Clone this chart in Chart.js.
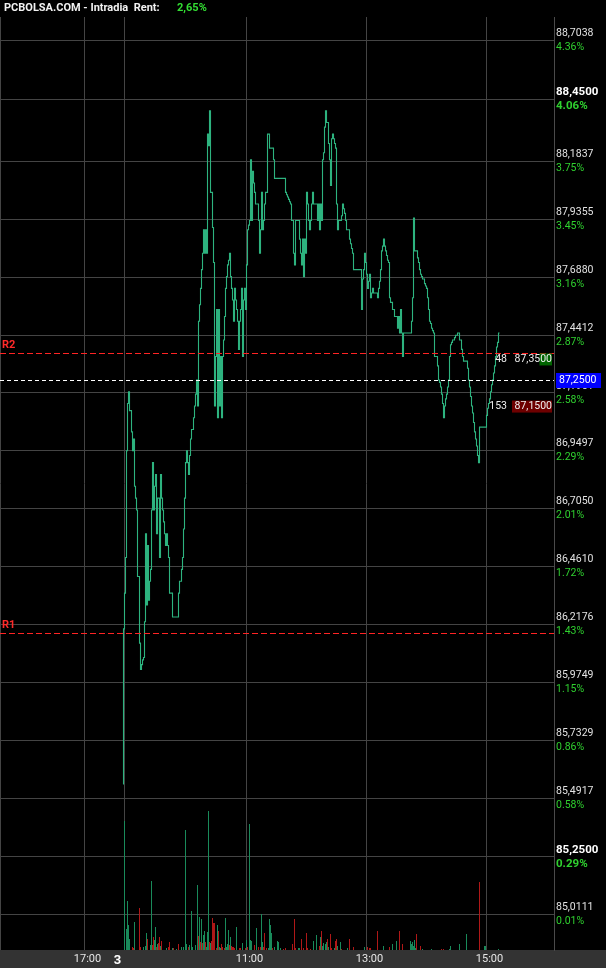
<!DOCTYPE html>
<html>
<head>
<meta charset="utf-8">
<title>PCBOLSA.COM - Intradia</title>
<script src="https://cdn.jsdelivr.net/npm/chart.js@4.4.1/dist/chart.umd.min.js"></script>
<style>
  html, body { margin: 0; padding: 0; background: #000; }
  canvas { display: block; }
</style>
</head>
<body>
<canvas id="intradia" width="606" height="968"></canvas>
<script>
// minutes since the 09:00 open (compressed session time) and traded price
const priceMin = [
  -1, 0, 1, 2, 3, 4, 5, 7, 8, 9, 10, 11, 12, 13, 15, 16, 17, 18, 19, 20,
  21, 22, 23, 24, 25, 26, 27, 28, 29, 30, 31, 32, 33, 35, 36, 37, 38, 39, 40, 41,
  42, 43, 44, 45, 48, 54, 55, 57, 58, 59, 60, 61, 62, 63, 64, 65, 66, 67, 69, 70,
  71, 72, 73, 74, 75, 76, 77, 78, 79, 80, 81, 82, 83, 84, 85, 86, 88, 89, 90, 91,
  92, 93, 94, 95, 96, 97, 98, 99, 100, 101, 102, 103, 104, 105, 106, 107, 108, 109, 110, 111,
  112, 113, 114, 115, 116, 117, 118, 119, 120, 121, 122, 123, 124, 125, 126, 127, 128, 129, 130, 131,
  134, 135, 136, 137, 138, 139, 140, 141, 143, 145, 149, 150, 161, 162, 163, 164, 165, 166, 167, 169,
  170, 171, 175, 176, 177, 178, 179, 180, 181, 182, 183, 184, 185, 186, 187, 188, 189, 193, 194, 195,
  196, 197, 198, 199, 200, 201, 202, 204, 205, 206, 207, 208, 209, 210, 211, 212, 213, 214, 217, 218,
  219, 220, 221, 222, 225, 226, 227, 228, 229, 237, 238, 239, 240, 241, 242, 243, 244, 245, 246, 247,
  248, 249, 253, 254, 255, 256, 257, 258, 259, 260, 261, 262, 263, 264, 265, 266, 268, 270, 273, 274,
  275, 276, 277, 278, 279, 287, 288, 289, 290, 293, 294, 295, 296, 297, 298, 300, 301, 302, 303, 304,
  305, 306, 307, 308, 309, 310, 313, 314, 315, 316, 317, 318, 319, 320, 321, 322, 323, 324, 325, 326,
  327, 328, 330, 331, 333, 335, 337, 338, 339, 343, 344, 345, 346, 347, 348, 349, 350, 351, 352, 353,
  354, 355, 362, 363, 364, 365, 366, 367, 368, 369, 370, 371, 372, 373, 374, 375
];
const priceVal = [
  85.55, 86.20, 86.35, 86.50, 86.95, 87.15, 87.20, 87.12, 87.03, 86.95, 87.00, 86.80, 86.75, 86.70, 86.42, 86.14, 86.03, 86.05, 86.07, 86.08,
  86.23, 86.60, 86.30, 86.55, 86.32, 86.40, 86.45, 86.70, 86.90, 86.70, 86.80, 86.85, 86.60, 86.75, 86.50, 86.85, 86.75, 86.70, 86.65, 86.60,
  86.55, 86.60, 86.55, 86.50, 86.35, 86.25, 86.35, 86.40, 86.45, 86.50, 86.62, 86.75, 86.90, 86.95, 86.90, 86.85, 86.93, 87.00, 87.04, 87.09,
  87.14, 87.19, 87.25, 87.14, 87.50, 87.57, 87.64, 87.72, 87.79, 87.89, 87.79, 87.89, 87.79, 88.30, 88.25, 88.40, 88.05, 87.90, 87.75, 87.14,
  87.35, 87.55, 87.09, 87.55, 87.14, 87.35, 87.09, 87.35, 87.42, 87.52, 87.64, 87.69, 87.74, 87.76, 87.79, 87.69, 87.64, 87.59, 87.50, 87.64,
  87.59, 87.55, 87.50, 87.38, 87.50, 87.55, 87.64, 87.35, 87.59, 87.64, 87.55, 87.74, 87.89, 87.91, 87.93, 88.19, 87.93, 88.14, 88.09, 88.05,
  88.00, 87.93, 87.79, 87.89, 88.05, 87.89, 87.93, 88.00, 88.05, 88.30, 88.24, 88.19, 88.11, 88.05, 88.04, 88.03, 88.02, 88.01, 88.00, 87.93,
  87.79, 87.74, 87.93, 87.85, 87.79, 87.74, 87.85, 87.69, 87.85, 87.79, 88.05, 88.00, 87.93, 87.89, 87.93, 88.00, 88.05, 88.00, 87.93, 88.00,
  87.89, 88.00, 87.93, 88.19, 88.22, 88.33, 88.40, 88.35, 88.26, 88.19, 88.08, 88.28, 88.30, 88.28, 88.26, 88.24, 88.00, 87.89, 87.93, 87.95,
  88.00, 87.98, 87.96, 87.93, 87.89, 87.85, 87.83, 87.81, 87.79, 87.72, 87.55, 87.68, 87.72, 87.79, 87.75, 87.70, 87.64, 87.67, 87.70, 87.60,
  87.62, 87.64, 87.62, 87.60, 87.64, 87.67, 87.72, 87.80, 87.82, 87.85, 87.82, 87.80, 87.78, 87.76, 87.75, 87.60, 87.58, 87.55, 87.52, 87.47,
  87.52, 87.45, 87.55, 87.45, 87.35, 87.45, 87.50, 87.60, 87.94, 87.80, 87.77, 87.75, 87.72, 87.70, 87.69, 87.68, 87.66, 87.65, 87.64, 87.60,
  87.55, 87.50, 87.49, 87.47, 87.46, 87.45, 87.35, 87.31, 87.25, 87.24, 87.22, 87.19, 87.15, 87.09, 87.14, 87.17, 87.19, 87.22, 87.25, 87.35,
  87.40, 87.41, 87.42, 87.43, 87.44, 87.45, 87.42, 87.38, 87.35, 87.33, 87.30, 87.25, 87.22, 87.18, 87.14, 87.11, 87.07, 87.03, 87.00, 86.97,
  86.93, 86.90, 87.05, 87.10, 87.13, 87.15, 87.17, 87.20, 87.23, 87.25, 87.28, 87.31, 87.35, 87.39, 87.41, 87.45
];

// traded volume per minute; negative = traded on a down tick
const volMin = [
  0, 2, 3, 4, 5, 8, 9, 10, 15, 16, 19, 21, 22, 23, 26, 27, 28, 29, 30, 31,
  32, 33, 34, 35, 36, 37, 42, 44, 45, 48, 49, 52, 54, 57, 59, 61, 62, 64, 65, 67,
  68, 71, 73, 74, 75, 76, 77, 78, 79, 80, 81, 82, 83, 84, 85, 86, 87, 88, 89, 90,
  92, 93, 94, 95, 96, 97, 98, 100, 101, 102, 103, 104, 105, 106, 107, 108, 109, 110, 112, 115,
  116, 118, 121, 122, 123, 125, 126, 127, 130, 132, 134, 136, 137, 138, 139, 140, 142, 144, 145, 146,
  147, 148, 150, 153, 154, 156, 159, 161, 168, 170, 171, 174, 175, 177, 179, 182, 183, 186, 189, 192,
  195, 196, 197, 198, 199, 201, 202, 203, 204, 206, 207, 210, 211, 212, 213, 216, 217, 223, 225, 229,
  240, 243, 245, 246, 253, 259, 265, 268, 272, 275, 278, 286, 287, 288, 289, 290, 291, 292, 296, 298,
  307, 317, 319, 325, 326, 335, 342, 355, 360, 361, 374
];
const volume = [
  6450, 1050, 2450, 1250, 550, -150, -100, 1400, -2100, -150, 150, 200, 850, -550, 250, 3450, -250, -650, 500, 1150,
  -150, 300, -350, -650, 200, -450, 100, -150, -400, 100, -100, 50, -300, 150, 150, 6000, 300, -150, 250, 1950,
  150, 250, 3250, -700, 1650, -400, 1550, -350, 750, 950, -400, 150, 900, 6950, -400, 350, -450, -1600, -1350, -1350,
  -100, 1250, -950, 150, 100, -300, -150, -100, 1600, 150, 300, 1000, -250, 650, -200, -150, -150, -100, 1150, -100,
  -100, 350, -100, 500, -150, 6300, 500, 450, -250, 1100, -150, -150, 1800, 400, -150, -850, -100, 100, 1550, 1250,
  850, -100, 150, 450, 400, 100, -50, -100, -300, -1550, -100, 100, 100, -550, -100, -850, -100, -50, 450, 750,
  -200, 650, -950, 200, 350, 300, 400, -550, 150, -800, -100, 100, -450, -550, 200, 400, -50, 100, -550, -150,
  150, -150, -100, -100, -950, 200, -150, 300, 450, -950, -300, 450, 300, 400, 200, 500, 100, -800, -200, 50,
  50, -50, -50, 50, 200, 300, 800, -3400, 200, 200, 50
];

// right axis: price ticks and their change vs. previous close
const tickPrices = [88.7038, 88.4500, 88.1837, 87.9355, 87.6880, 87.4412, 87.1951, 86.9497,
                    86.7050, 86.4610, 86.2176, 85.9749, 85.7329, 85.4917, 85.2500, 85.0111];
const tickPct = ['4.36%', '4.06%', '3.75%', '3.45%', '3.16%', '2.87%', '2.58%', '2.29%',
                 '2.01%', '1.72%', '1.43%', '1.15%', '0.86%', '0.58%', '0.29%', '0.01%'];
const boldPrices = [88.4500, 85.2500];

// time axis
const xTickValues = [-40, -10, 0, 122, 242, 362];
const xTickLabels = ['17:00', '3', '', '11:00', '13:00', '15:00'];
const dayTick = -10;

// levels, last trade, order book
const levelNames = ['R2', 'R1'];
const levelValues = [87.366, 86.183];
const lastPrice = 87.25;
const rentText = '2,65%';
const bookQty = [48, 153];
const bookPrice = [87.35, 87.15];
const bookSide = ['ask', 'bid'];

const GRID = '#444';
const fmtPrice = v => v.toFixed(4).replace('.', ',');

Chart.defaults.font.family = 'Roboto, sans-serif';

const overlay = {
  id: 'overlay',
  beforeDraw(chart) {
    const { ctx, width, height, chartArea } = chart;
    ctx.save();
    ctx.fillStyle = '#000';
    ctx.fillRect(0, 0, width, height);
    ctx.fillStyle = '#333';
    ctx.fillRect(0, chartArea.bottom, width, height - chartArea.bottom);
    ctx.restore();
  },
  afterDraw(chart) {
    const { ctx, chartArea: area } = chart;
    const ys = chart.scales.y;
    ctx.save();

    // left frame
    ctx.strokeStyle = GRID;
    ctx.lineWidth = 1;
    ctx.beginPath();
    ctx.moveTo(area.left + 0.5, area.top);
    ctx.lineTo(area.left + 0.5, area.bottom);
    ctx.stroke();

    // percentage under every price label
    ctx.textBaseline = 'middle';
    ctx.textAlign = 'left';
    tickPrices.forEach((p, i) => {
      const bold = boldPrices.includes(p);
      ctx.font = (bold ? 'bold 11.5px' : '10.5px') + ' Roboto';
      ctx.fillStyle = '#2fd02f';
      ctx.fillText(tickPct[i], area.right + 2, ys.getPixelForValue(p) + 7);
    });

    // R1 / R2
    ctx.font = 'bold 11px Roboto';
    levelValues.forEach((v, i) => {
      const py = Math.round(ys.getPixelForValue(v)) + 0.5;
      ctx.strokeStyle = '#ff2424';
      ctx.setLineDash([6, 3]);
      ctx.beginPath();
      ctx.moveTo(area.left, py);
      ctx.lineTo(area.right, py);
      ctx.stroke();
      ctx.fillStyle = '#ff2a2a';
      ctx.fillText(levelNames[i], 2, py - 8);
    });

    // last trade
    const ly = Math.round(ys.getPixelForValue(lastPrice)) + 0.5;
    ctx.strokeStyle = '#fff';
    ctx.setLineDash([4, 3]);
    ctx.beginPath();
    ctx.moveTo(area.left, ly);
    ctx.lineTo(area.right, ly);
    ctx.stroke();
    ctx.setLineDash([]);
    ctx.fillStyle = '#0000ff';
    ctx.fillRect(area.right + 2, ly - 7.5, 45, 15);
    ctx.fillStyle = '#fff';
    ctx.font = '10.5px Roboto';
    ctx.fillText(fmtPrice(lastPrice), area.right + 5, ly);

    // best bid / ask
    const maxQty = Math.max(...bookQty);
    bookPrice.forEach((p, i) => {
      const py = ys.getPixelForValue(p) + 3;
      const w = bookQty[i] / maxQty * 40;
      ctx.fillStyle = bookSide[i] === 'ask' ? '#006400' : '#6e0000';
      ctx.fillRect(area.right - 2 - w, py - 6, w, 12);
      ctx.fillStyle = '#eee';
      ctx.textAlign = 'right';
      ctx.fillText(String(bookQty[i]), area.right - 47, py);
      ctx.fillText(fmtPrice(p), area.right - 2, py);
    });

    // header
    ctx.textAlign = 'left';
    ctx.font = 'bold 11px Roboto';
    ctx.fillStyle = '#f2f2f2';
    ctx.fillText('PCBOLSA.COM - Intradia  Rent:', 4, 8.5);
    ctx.fillStyle = '#33dd33';
    ctx.fillText(rentText, 177, 8.5);
    ctx.restore();
  }
};

new Chart(document.getElementById('intradia'), {
  type: 'line',
  data: {
    datasets: [
      {
        type: 'line',
        data: priceMin.map((m, i) => ({ x: m, y: priceVal[i] })),
        yAxisID: 'y',
        borderColor: '#2db37f',
        borderWidth: 1.1,
        pointRadius: 0,
        stepped: 'after',
        order: 0
      },
      {
        type: 'bar',
        data: volMin.map((m, i) => ({ x: m, y: Math.abs(volume[i]) })),
        yAxisID: 'yVol',
        backgroundColor: volume.map(v => v >= 0 ? '#198a5a' : '#b01818'),
        barThickness: 1,
        inflateAmount: 0,
        order: 1
      }
    ]
  },
  options: {
    responsive: false,
    animation: false,
    devicePixelRatio: 1,
    layout: { padding: { top: 17, left: 0, right: 0, bottom: 0 } },
    plugins: { legend: { display: false }, tooltip: { enabled: false } },
    scales: {
      x: {
        type: 'linear',
        min: -124.5,
        max: 429.5,
        offset: false,
        afterBuildTicks: s => { s.ticks = xTickValues.map(v => ({ value: v })); },
        afterFit: s => { s.height = 18; },
        grid: {
          offset: false,
          color: c => (c.tick && c.tick.value === dayTick) ? 'rgba(0,0,0,0)' : GRID,
          drawTicks: false
        },
        border: { display: false },
        ticks: {
          padding: 3,
          labelOffset: 3,
          autoSkip: false,
          maxRotation: 0,
          color: c => (c.tick && c.tick.value === dayTick) ? '#fff' : '#e6e6e6',
          font: c => (c.tick && c.tick.value === dayTick) ? { size: 13, weight: 'bold' } : { size: 11 },
          callback: (v, i) => xTickLabels[i]
        }
      },
      y: {
        type: 'logarithmic',
        position: 'right',
        min: 84.8636,
        max: 88.8046,
        bounds: 'data',
        afterBuildTicks: s => { s.ticks = tickPrices.map(v => ({ value: v })); },
        afterFit: s => { s.width = 52; },
        grid: { color: GRID, drawTicks: false },
        border: { display: true, color: '#4a4a4a' },
        ticks: {
          padding: 2,
          labelOffset: -7,
          autoSkip: false,
          color: c => (c.tick && boldPrices.includes(c.tick.value)) ? '#fff' : '#e2e2e2',
          font: c => (c.tick && boldPrices.includes(c.tick.value)) ? { size: 11.5, weight: 'bold' } : { size: 10.5 },
          callback: (v, i) => fmtPrice(tickPrices[i])
        }
      },
      yVol: {
        type: 'linear',
        display: false,
        min: 0,
        max: 46650
      }
    }
  },
  plugins: [overlay]
});
</script>
</body>
</html>
